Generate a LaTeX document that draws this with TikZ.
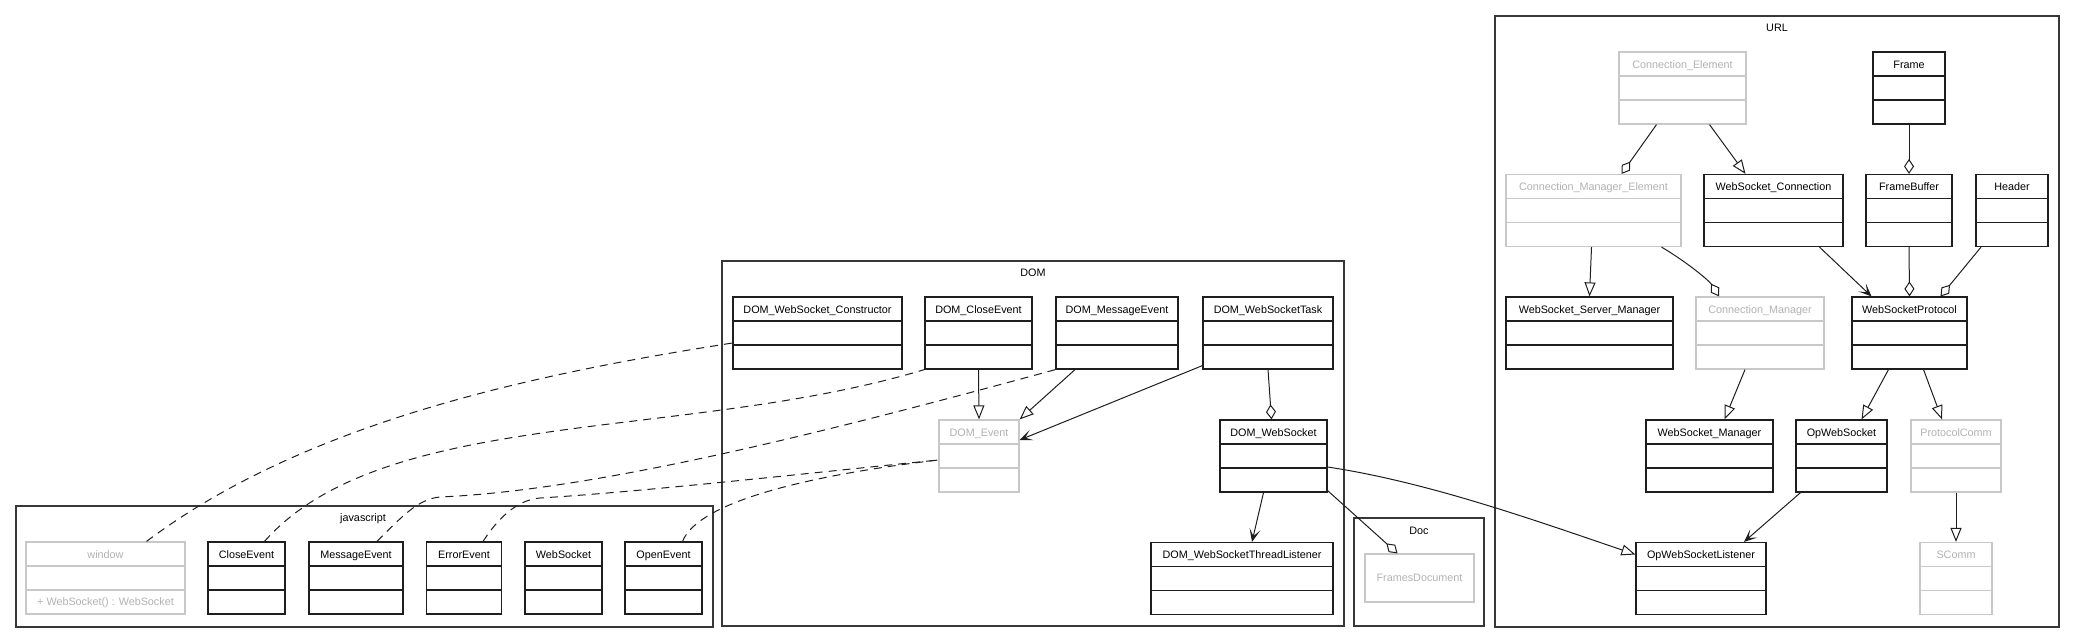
\documentclass[tikz,border=0pt]{standalone}
\usepackage{fontspec}
\setmainfont{Liberation Sans}
\usepackage{tikz}
\usetikzlibrary{arrows.meta, shapes.geometric}
\definecolor{umlline}{RGB}{30, 30, 30}
\definecolor{umlgray}{RGB}{200, 200, 200}
\definecolor{umlgraytext}{RGB}{178, 178, 178}
\definecolor{pkgline}{RGB}{55, 55, 55}
\newcommand{\umlsize}{\fontsize{10.8pt}{12pt}\selectfont}
\tikzset{
  parts/.style          = {path picture={
      \draw[#1, line width=1.2pt] ([yshift=-24pt]path picture bounding box.north west) -- ([yshift=-24pt]path picture bounding box.north east);
      \draw[#1, line width=1.2pt] ([yshift=-48pt]path picture bounding box.north west) -- ([yshift=-48pt]path picture bounding box.north east);}},
  cls/.style            = {rectangle, draw=umlline, fill=white, line width=1.2pt, inner sep=0pt, minimum height=72pt, text height=16pt, text depth=56pt, font=\umlsize, parts=umlline},
  clsgray/.style        = {cls, draw=umlgray, text=umlgraytext, parts=umlgray},
  pkg/.style            = {rectangle, draw=pkgline, line width=1.1pt, inner sep=0pt},
  pkgname/.style        = {anchor=base, font=\umlsize},
  conn/.style           = {line width=1pt, umlline},
  inherit/.style        = {conn, -{Triangle[open, length=14pt, width=11pt]}},
  aggr/.style           = {conn, -{Diamond[open, length=15pt, width=10pt]}},
  navi/.style           = {conn, -{Stealth[length=13pt, width=11pt, inset=7pt]}},
  usedep/.style         = {conn, dash pattern=on 8pt off 6pt},
}
\begin{document}
\begin{tikzpicture}[x=1pt, y=-1pt]
  \useasboundingbox (0,0) rectangle (2075,643);

  % packages
  \node[pkg, minimum width=697pt, minimum height=121pt] (pkgjs) at (364.5,566.5) {};
  \node[pkgname] (jsname) at (363,521) {javascript};
  \node[pkg, minimum width=622pt, minimum height=365pt] (pkgdom) at (1033,443.5) {};
  \node[pkgname] (domname) at (1033,276) {DOM};
  \node[pkg, minimum width=130pt, minimum height=108pt] (pkgdoc) at (1419,572) {};
  \node[pkgname] (docname) at (1419,534) {Doc};
  \node[pkg, minimum width=564pt, minimum height=611pt] (pkgurl) at (1777,321.5) {};
  \node[pkgname] (urlname) at (1777,31) {URL};

  % javascript
  \node[clsgray, minimum width=159pt] (window) at (105.5,578) {window};
  \node[text=umlgraytext, font=\umlsize] (windowop) at (105.5,603) {+ WebSocket() : WebSocket};
  \node[cls, minimum width=77pt] (jclose) at (246.5,578) {CloseEvent};
  \node[cls, minimum width=94pt] (jmsg) at (356,578) {MessageEvent};
  \node[cls, minimum width=75pt] (jerr) at (464,578) {ErrorEvent};
  \node[cls, minimum width=77pt] (jws) at (563.5,578) {WebSocket};
  \node[cls, minimum width=77pt] (jopen) at (663.5,578) {OpenEvent};

  % DOM
  \node[cls, minimum width=169pt] (dwsc) at (817.5,333) {DOM\_WebSocket\_Constructor};
  \node[cls, minimum width=107pt] (dclose) at (978.5,333) {DOM\_CloseEvent};
  \node[cls, minimum width=122pt] (dmsg) at (1117,333) {DOM\_MessageEvent};
  \node[cls, minimum width=130pt] (dtask) at (1268,333) {DOM\_WebSocketTask};
  \node[clsgray, minimum width=80pt] (devent) at (979,456) {DOM\_Event};
  \node[cls, minimum width=107pt] (dws) at (1273.5,456) {DOM\_WebSocket};
  \node[cls, minimum width=182pt] (dlisten) at (1242,578.5) {DOM\_WebSocketThreadListener};

  % Doc
  \node[rectangle, draw=umlgray, line width=1.2pt, text=umlgraytext, font=\umlsize, minimum width=109pt, minimum height=48pt] (fdoc) at (1419.5,578) {FramesDocument};

  % URL
  \node[clsgray, minimum width=127pt] (conel) at (1682.5,88) {Connection\_Element};
  \node[cls, minimum width=72pt] (frame) at (1909,88) {Frame};
  \node[clsgray, minimum width=175pt] (conmgrel) at (1593.5,210.5) {Connection\_Manager\_Element};
  \node[cls, minimum width=139pt] (wsconn) at (1773.5,210.5) {WebSocket\_Connection};
  \node[cls, minimum width=86pt] (fbuf) at (1909,210.5) {FrameBuffer};
  \node[cls, minimum width=72pt] (header) at (2012,210.5) {Header};
  \node[cls, minimum width=167pt] (wssrvmgr) at (1589.5,333) {WebSocket\_Server\_Manager};
  \node[clsgray, minimum width=128pt] (conmgr) at (1760,333) {Connection\_Manager};
  \node[cls, minimum width=115pt] (wsproto) at (1909.5,333) {WebSocketProtocol};
  \node[cls, minimum width=127pt] (wsmgr) at (1709.5,456) {WebSocket\_Manager};
  \node[cls, minimum width=91pt] (opws) at (1841.5,456) {OpWebSocket};
  \node[clsgray, minimum width=90pt] (pcomm) at (1956,456) {ProtocolComm};
  \node[cls, minimum width=130pt] (opwsl) at (1701,578.5) {OpWebSocketListener};
  \node[clsgray, minimum width=72pt] (scomm) at (1956,578.5) {SComm};

  % URL links
  \draw[aggr] ([xshift=-26pt]conel.south) -- ([xshift=28pt]conmgrel.north);
  \draw[inherit] ([xshift=27pt]conel.south) -- ([xshift=-28pt]wsconn.north);
  \draw[aggr] (frame.south) -- (fbuf.north);
  \draw[inherit] ([xshift=-2pt]conmgrel.south) -- (wssrvmgr.north);
  \draw[aggr] ([xshift=68pt]conmgrel.south) .. controls +(24,14) and +(-10,-16) .. ([xshift=-41pt]conmgr.north);
  \draw[navi] ([xshift=46pt]wsconn.south) -- ([xshift=-38pt]wsproto.north);
  \draw[aggr] (fbuf.south) -- (wsproto.north);
  \draw[aggr] ([xshift=-31pt]header.south) -- ([xshift=31pt]wsproto.north);
  \draw[inherit] ([xshift=-15pt]conmgr.south) -- ([xshift=15pt]wsmgr.north);
  \draw[inherit] ([xshift=-21pt]wsproto.south) -- ([xshift=20pt]opws.north);
  \draw[inherit] ([xshift=14pt]wsproto.south) -- ([xshift=-14pt]pcomm.north);
  \draw[inherit] (pcomm.south) -- (scomm.north);
  \draw[navi] ([xshift=-41pt]opws.south) -- ([xshift=43pt]opwsl.north);

  % DOM links
  \draw[inherit] (dclose.south) -- (devent.north);
  \draw[inherit] ([xshift=-42pt]dmsg.south) -- (devent.north east);
  \draw[navi] ([yshift=4pt]dtask.south west) -- ([yshift=16pt]devent.east);
  \draw[aggr] (dtask.south) -- ([xshift=-2pt]dws.north);
  \draw[navi] ([xshift=-10pt]dws.south) -- ([xshift=10pt]dlisten.north);
  \draw[aggr] ([yshift=2pt]dws.south east) -- ([xshift=-22pt]fdoc.north);
  \draw[inherit] ([yshift=-11pt]dws.east) .. controls +(100,15) and +(-100,-34) .. ([yshift=24pt]opwsl.west);

  % javascript -> DOM
  \draw[usedep] ([xshift=41pt]window.north) .. controls +(160,-120) and +(-198,31) .. ([yshift=-10pt]dwsc.west);
  \draw[usedep] ([xshift=18pt]jclose.north) .. controls +(119,-135) and +(-239,72) .. (dclose.south west);
  \draw[usedep] ([xshift=21pt]jmsg.north) .. controls +(25,-25) and +(-22,2) .. (440,497)
                .. controls +(160,-7) and +(-220,60) .. (dmsg.south west);
  \draw[usedep] ([xshift=19pt]jerr.north) .. controls +(13,-20) and +(-25,2) .. (540,498)
                .. controls +(100,-6) and +(-119,12) .. ([yshift=-4pt]devent.west);
  \draw[usedep] ([xshift=19pt]jopen.north) .. controls +(17,-42) and +(-119,14) .. ([yshift=-4pt]devent.west);
\end{tikzpicture}
\end{document}
